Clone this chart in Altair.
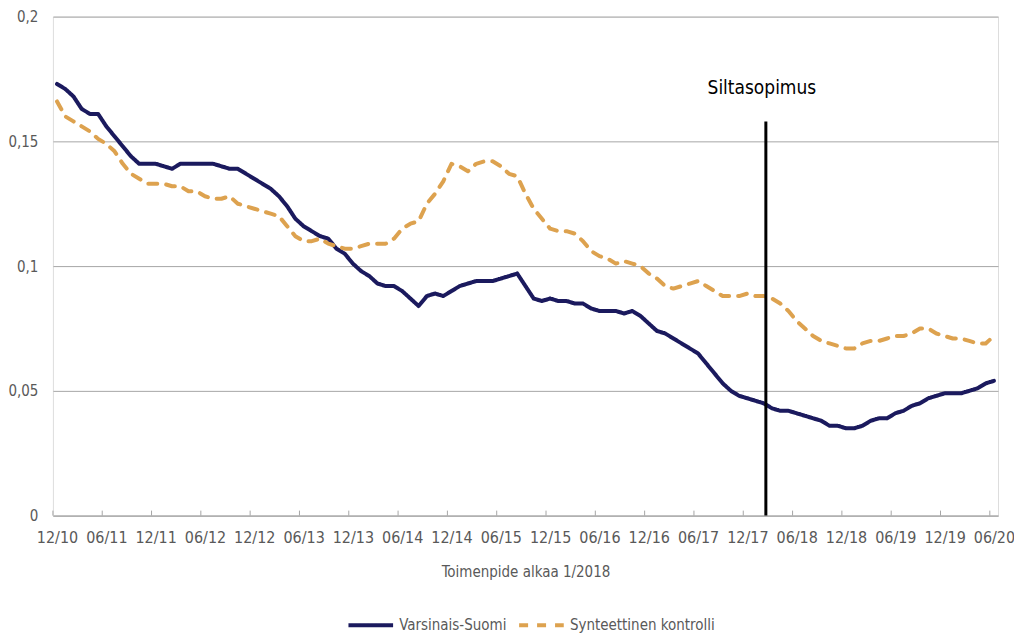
import altair as alt
import pandas as pd

# ---- data ----
tick_labels = ["12/10", "06/11", "12/11", "06/12", "12/12", "06/13", "12/13", "06/14",
               "12/14", "06/15", "12/15", "06/16", "12/16", "06/17", "12/17", "06/18",
               "12/18", "06/19", "12/19", "06/20"]

varsinais_suomi = [
    0.173, 0.171, 0.168, 0.163, 0.161, 0.161, 0.156, 0.152, 0.148, 0.144,
    0.141, 0.141, 0.141, 0.140, 0.139, 0.141, 0.141, 0.141, 0.141, 0.141,
    0.140, 0.139, 0.139, 0.137, 0.135, 0.133, 0.131, 0.128, 0.124, 0.119,
    0.116, 0.114, 0.112, 0.111, 0.107, 0.105, 0.101, 0.098, 0.096, 0.093,
    0.092, 0.092, 0.090, 0.087, 0.084, 0.088, 0.089, 0.088, 0.090, 0.092,
    0.093, 0.094, 0.094, 0.094, 0.095, 0.096, 0.097, 0.092, 0.087, 0.086,
    0.087, 0.086, 0.086, 0.085, 0.085, 0.083, 0.082, 0.082, 0.082, 0.081,
    0.082, 0.080, 0.077, 0.074, 0.073, 0.071, 0.069, 0.067, 0.065, 0.061,
    0.057, 0.053, 0.050, 0.048, 0.047, 0.046, 0.045, 0.043, 0.042, 0.042,
    0.041, 0.040, 0.039, 0.038, 0.036, 0.036, 0.035, 0.035, 0.036, 0.038,
    0.039, 0.039, 0.041, 0.042, 0.044, 0.045, 0.047, 0.048, 0.049, 0.049,
    0.049, 0.050, 0.051, 0.053, 0.054,
]

synteettinen_kontrolli = [
    0.166, 0.160, 0.158, 0.156, 0.154, 0.151, 0.149, 0.146, 0.141, 0.137,
    0.135, 0.133, 0.133, 0.133, 0.132, 0.132, 0.130, 0.130, 0.128, 0.127,
    0.127, 0.128, 0.125, 0.124, 0.123, 0.122, 0.121, 0.120, 0.116, 0.112,
    0.110, 0.110, 0.111, 0.109, 0.108, 0.107, 0.107, 0.108, 0.109, 0.109,
    0.109, 0.111, 0.115, 0.117, 0.118, 0.125, 0.129, 0.134, 0.141, 0.140,
    0.138, 0.141, 0.142, 0.142, 0.140, 0.137, 0.136, 0.129, 0.123, 0.119,
    0.115, 0.114, 0.114, 0.113, 0.110, 0.106, 0.104, 0.103, 0.101, 0.102,
    0.101, 0.100, 0.097, 0.095, 0.092, 0.091, 0.092, 0.093, 0.094, 0.092,
    0.090, 0.088, 0.088, 0.088, 0.089, 0.088, 0.088, 0.087, 0.085, 0.082,
    0.078, 0.075, 0.072, 0.070, 0.069, 0.068, 0.067, 0.067, 0.069, 0.070,
    0.070, 0.071, 0.072, 0.072, 0.073, 0.075, 0.075, 0.073, 0.072, 0.071,
    0.071, 0.070, 0.069, 0.069, 0.072,
]

series_names = ["Varsinais-Suomi", "Synteettinen kontrolli"]
series_colors = ["#1B1A5E", "#DDA24F"]
y_ticks = [0, 0.05, 0.1, 0.15, 0.2]
x_title = "Toimenpide alkaa 1/2018"

event_label = "Siltasopimus"
event_month = 86.25
event_top = 0.158

months_per_label = 6

# ---- tables ----
n = len(varsinais_suomi)
rows = []
for i, v in enumerate(varsinais_suomi):
    rows.append({"month": i, "value": v, "series": series_names[0]})
for i, v in enumerate(synteettinen_kontrolli):
    rows.append({"month": i, "value": v, "series": series_names[1]})
df = pd.DataFrame(rows)

label_positions = [k * months_per_label for k in range(len(tick_labels))]
tick_df = pd.DataFrame({"pos": [p - 0.5 for p in label_positions]})
event_df = pd.DataFrame({"month": [event_month], "top": [event_top], "bottom": [0.0],
                         "label": [event_label]})

FONT = "DejaVu Sans Condensed"
label_js = "[" + ",".join("'" + t + "'" for t in tick_labels) + "]"

x_scale = alt.Scale(domain=[-0.5, n - 0.5], nice=False, zero=False)
y_scale = alt.Scale(domain=[0, 0.2], nice=False)


def make_legend():
    return alt.Legend(title=None, orient="none", direction="horizontal",
                      legendX=294, legendY=585, symbolType="stroke",
                      symbolSize=2000, symbolStrokeWidth=4,
                      labelFontSize=15, labelFont=FONT,
                      labelColor="#595959", columnPadding=4,
                      labelOffset=4, labelLimit=300)


lines = alt.Chart(df).mark_line(strokeWidth=4, strokeCap="round", strokeJoin="round").encode(
    x=alt.X("month:Q", scale=x_scale,
            axis=alt.Axis(values=label_positions,
                          labelExpr=label_js + "[round(datum.value/" + str(months_per_label) + ")]",
                          ticks=False, grid=False, domain=True, domainColor="#A6A6A6",
                          domainWidth=1, labelPadding=14, labelFontSize=16,
                          labelColor="#595959", labelFont=FONT, title=x_title,
                          titleFont=FONT, titleFontSize=15, titleFontWeight="normal",
                          titleColor="#595959", titlePadding=19, labelOverlap=False)),
    y=alt.Y("value:Q", scale=y_scale,
            axis=alt.Axis(values=y_ticks,
                          labelExpr="replace(format(datum.value, '.2~f'), '.', ',')",
                          ticks=False, domain=False, grid=True, gridColor="#A6A6A6",
                          gridWidth=1, labelPadding=15, labelFontSize=15,
                          labelColor="#595959", labelFont=FONT, title=None)),
    color=alt.Color("series:N",
                    scale=alt.Scale(domain=series_names, range=series_colors),
                    legend=make_legend()),
    strokeDash=alt.StrokeDash("series:N",
                              scale=alt.Scale(domain=series_names, range=[[1, 0], [9, 9]]),
                              legend=make_legend()),
)

ticks = alt.Chart(tick_df).mark_rule(color="#A6A6A6", strokeWidth=1).encode(
    x=alt.X("pos:Q", scale=x_scale),
    y=alt.value(500),
    y2=alt.value(495),
)

event_rule = alt.Chart(event_df).mark_rule(color="#000000", strokeWidth=3).encode(
    x=alt.X("month:Q", scale=x_scale),
    y=alt.Y("top:Q", scale=y_scale),
    y2="bottom:Q",
)

event_text = alt.Chart(event_df).mark_text(
    font=FONT, fontSize=19, color="#000000", dy=-33, align="center", baseline="middle",
    dx=-4,
).encode(
    x=alt.X("month:Q", scale=x_scale),
    y=alt.Y("top:Q", scale=y_scale),
    text="label:N",
)

chart = alt.layer(ticks, lines, event_rule, event_text).properties(
    width=947, height=500,
    autosize=alt.AutoSizeParams(type="none"),
    padding={"left": 45, "top": 8, "right": 16, "bottom": 119},
).configure_view(stroke=None).configure(font=FONT)

chart.save("out.html", embed_options={"renderer": "svg", "actions": False})
